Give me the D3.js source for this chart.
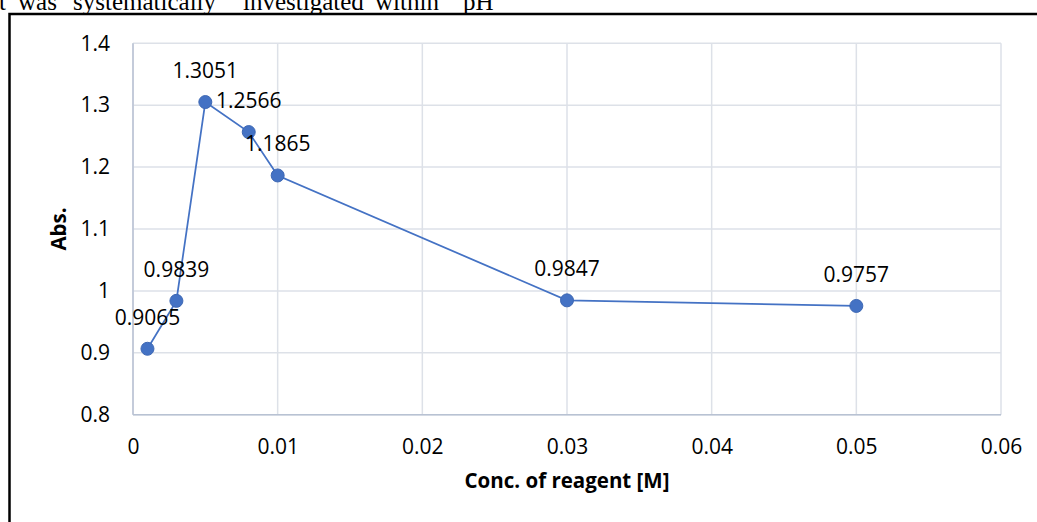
<!DOCTYPE html>
<html>
<head>
<meta charset="utf-8">
<script src="https://cdn.jsdelivr.net/npm/d3@7"></script>
<style>
  body { margin: 0; background: #fff; overflow: hidden; }
  svg { display: block; }
</style>
</head>
<body>
<div id="chart"></div>
<script>
// data
var conc = [0.001, 0.003, 0.005, 0.008, 0.01, 0.03, 0.05];
var absValues = [0.9065, 0.9839, 1.3051, 1.2566, 1.1865, 0.9847, 0.9757];
var xTicks = [0, 0.01, 0.02, 0.03, 0.04, 0.05, 0.06];
var yTicks = [0.8, 0.9, 1, 1.1, 1.2, 1.3, 1.4];
var headerWords = ["t", "was", "systematically", "investigated", "within", "pH"];
var headerX = [-1, 18, 73, 243, 375, 463];

var W = 1037, H = 522;
var margin = {top: 43.3, right: 36, bottom: 107.3, left: 133},
    width = W - margin.left - margin.right,
    height = H - margin.top - margin.bottom;

var font = "'Open Sans', sans-serif";

var svg = d3.select("#chart")
  .append("svg")
    .attr("width", W)
    .attr("height", H);

// cut-off line of body text above the figure
var header = svg.append("text")
    .attr("y", 10)
    .attr("font-family", "'Liberation Serif', 'Times New Roman', serif")
    .attr("font-size", "25px")
    .attr("fill", "#000");
header.selectAll("tspan")
  .data(headerWords)
  .enter()
  .append("tspan")
    .attr("x", function(d, i) { return headerX[i]; })
    .text(function(d) { return d; });

// black frame around the figure
svg.append("rect")
    .attr("x", 9.5)
    .attr("y", 14)
    .attr("width", 1200)
    .attr("height", 700)
    .attr("fill", "none")
    .attr("stroke", "#000")
    .attr("stroke-width", 2.5);

var chartGroup = svg.append("g")
    .attr("transform", "translate(" + margin.left + "," + margin.top + ")");

var x = d3.scaleLinear()
  .domain([0, 0.06])
  .range([0, width]);

var y = d3.scaleLinear()
  .domain([0.8, 1.4])
  .range([height, 0]);

// gridlines
chartGroup.append("g")
  .selectAll("line")
  .data(yTicks)
  .enter()
  .append("line")
    .attr("x1", 0)
    .attr("x2", width)
    .attr("y1", function(d) { return y(d); })
    .attr("y2", function(d) { return y(d); })
    .attr("stroke", "#dde1e8")
    .attr("stroke-width", 1.5);

chartGroup.append("g")
  .selectAll("line")
  .data(xTicks)
  .enter()
  .append("line")
    .attr("x1", function(d) { return x(d); })
    .attr("x2", function(d) { return x(d); })
    .attr("y1", 0)
    .attr("y2", height)
    .attr("stroke", "#dde1e8")
    .attr("stroke-width", 1.5);

// axis lines
chartGroup.append("line")
    .attr("x1", 0).attr("x2", width)
    .attr("y1", height).attr("y2", height)
    .attr("stroke", "#b8c2d3")
    .attr("stroke-width", 1.5);
chartGroup.append("line")
    .attr("x1", 0).attr("x2", 0)
    .attr("y1", 0).attr("y2", height)
    .attr("stroke", "#b8c2d3")
    .attr("stroke-width", 1.5);

// tick labels
var xAxis = chartGroup.append("g")
    .attr("transform", "translate(0," + height + ")")
    .call(d3.axisBottom(x).tickValues(xTicks).tickSize(0).tickPadding(24)
      .tickFormat(function(d) { return String(d); }));
xAxis.select(".domain").remove();
xAxis.selectAll("text")
    .attr("font-family", font)
    .attr("font-size", "21px")
    .attr("fill", "#000");

var yAxis = chartGroup.append("g")
    .call(d3.axisLeft(y).tickValues(yTicks).tickSize(0).tickPadding(23)
      .tickFormat(function(d) { return String(d); }));
yAxis.select(".domain").remove();
yAxis.selectAll("text")
    .attr("font-family", font)
    .attr("font-size", "21px")
    .attr("fill", "#000");

// series line
var line = d3.line()
    .x(function(d, i) { return x(conc[i]); })
    .y(function(d) { return y(d); });

chartGroup.append("path")
    .datum(absValues)
    .attr("d", line)
    .attr("fill", "none")
    .attr("stroke", "#4472c4")
    .attr("stroke-width", 1.75);

// markers
chartGroup.selectAll("circle")
  .data(absValues)
  .enter()
  .append("circle")
    .attr("cx", function(d, i) { return x(conc[i]); })
    .attr("cy", function(d) { return y(d); })
    .attr("r", 6.5)
    .attr("fill", "#4472c4")
    .attr("stroke", "#3e68b4")
    .attr("stroke-width", 1);

// data labels
chartGroup.selectAll(".label")
  .data(absValues)
  .enter()
  .append("text")
    .attr("class", "label")
    .attr("x", function(d, i) { return x(conc[i]); })
    .attr("y", function(d) { return y(d) - 24; })
    .attr("text-anchor", "middle")
    .attr("font-family", font)
    .attr("font-size", "21px")
    .attr("fill", "#000")
    .text(function(d) { return String(d); });

// axis titles
chartGroup.append("text")
    .attr("x", width / 2)
    .attr("y", height + 73)
    .attr("text-anchor", "middle")
    .attr("font-family", font)
    .attr("font-weight", "bold")
    .attr("font-size", "20.5px")
    .attr("fill", "#000")
    .text("Conc. of reagent [M]");

chartGroup.append("text")
    .attr("transform", "rotate(-90)")
    .attr("x", -height / 2)
    .attr("y", -67)
    .attr("text-anchor", "middle")
    .attr("font-family", font)
    .attr("font-weight", "bold")
    .attr("font-size", "20.5px")
    .attr("fill", "#000")
    .text("Abs.");
</script>
</body>
</html>
